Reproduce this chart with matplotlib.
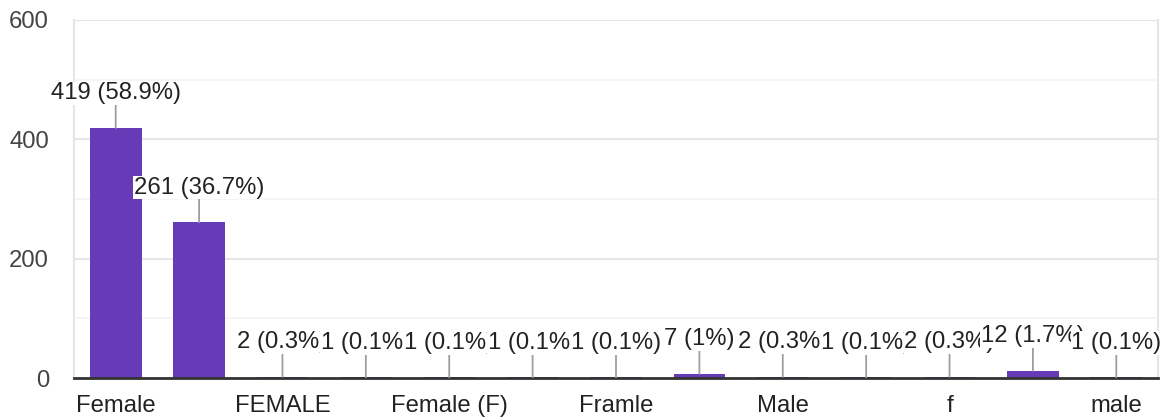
import matplotlib
matplotlib.use('Agg')
import matplotlib.pyplot as plt

# answers (hidden labels are guesses, only every other one is shown)
categories = ["Female", "F", "FEMALE", "Femal", "Female (F)", "Feamle", "Framle",
              "M", "Male", "MALE", "f", "female", "male"]
counts = [419, 261, 2, 1, 1, 1, 1, 7, 2, 1, 2, 12, 1]
percents = ["58.9%", "36.7%", "0.3%", "0.1%", "0.1%", "0.1%", "0.1%",
            "1%", "0.3%", "0.1%", "0.3%", "1.7%", "0.1%"]

plt.rcParams['font.family'] = ['Liberation Sans', 'DejaVu Sans']

fig = plt.figure(figsize=(11.66, 4.19), dpi=100)
ax = fig.add_axes([74 / 1166, 41 / 419, 1084 / 1166, 358 / 419])

x = list(range(len(categories)))
ax.bar(x, counts, width=0.62, color='#673ab7', zorder=3)

ax.set_xlim(-0.5, len(categories) - 0.5)
ax.set_ylim(0, 600)

# gridlines
for y in [100, 300, 500]:
    ax.axhline(y, color='#f3f3f3', lw=1.2, zorder=0)
for y in [200, 400, 600]:
    ax.axhline(y, color='#e6e6e6', lw=1.5, zorder=0)

ax.set_yticks([0, 200, 400, 600])
ax.set_xticks(x[::2])
ax.set_xticklabels(categories[::2])
ax.tick_params(axis='y', length=0, pad=18, labelsize=17.2, labelcolor='#444444')
ax.tick_params(axis='x', length=0, pad=12.5, labelsize=17.2, labelcolor='#222222')

ax.spines['top'].set_visible(False)
for s in ['left', 'right']:
    ax.spines[s].set_color('#e6e6e6')
    ax.spines[s].set_linewidth(1.5)
ax.spines['bottom'].set_color('#333333')
ax.spines['bottom'].set_linewidth(2)
ax.spines['bottom'].set_zorder(4)

for i, (c, p) in enumerate(zip(counts, percents)):
    ax.annotate(f"{c} ({p})", xy=(i, c), xytext=(0, 17), textcoords='offset points',
                ha='center', va='bottom', fontsize=17.2, color='#222222',
                bbox=dict(fc='white', ec='none', pad=0.5),
                arrowprops=dict(arrowstyle='-', color='#9e9e9e', lw=1.3,
                                shrinkA=0, shrinkB=0),
                zorder=5, annotation_clip=False)

fig.savefig('out.png', dpi=100)
